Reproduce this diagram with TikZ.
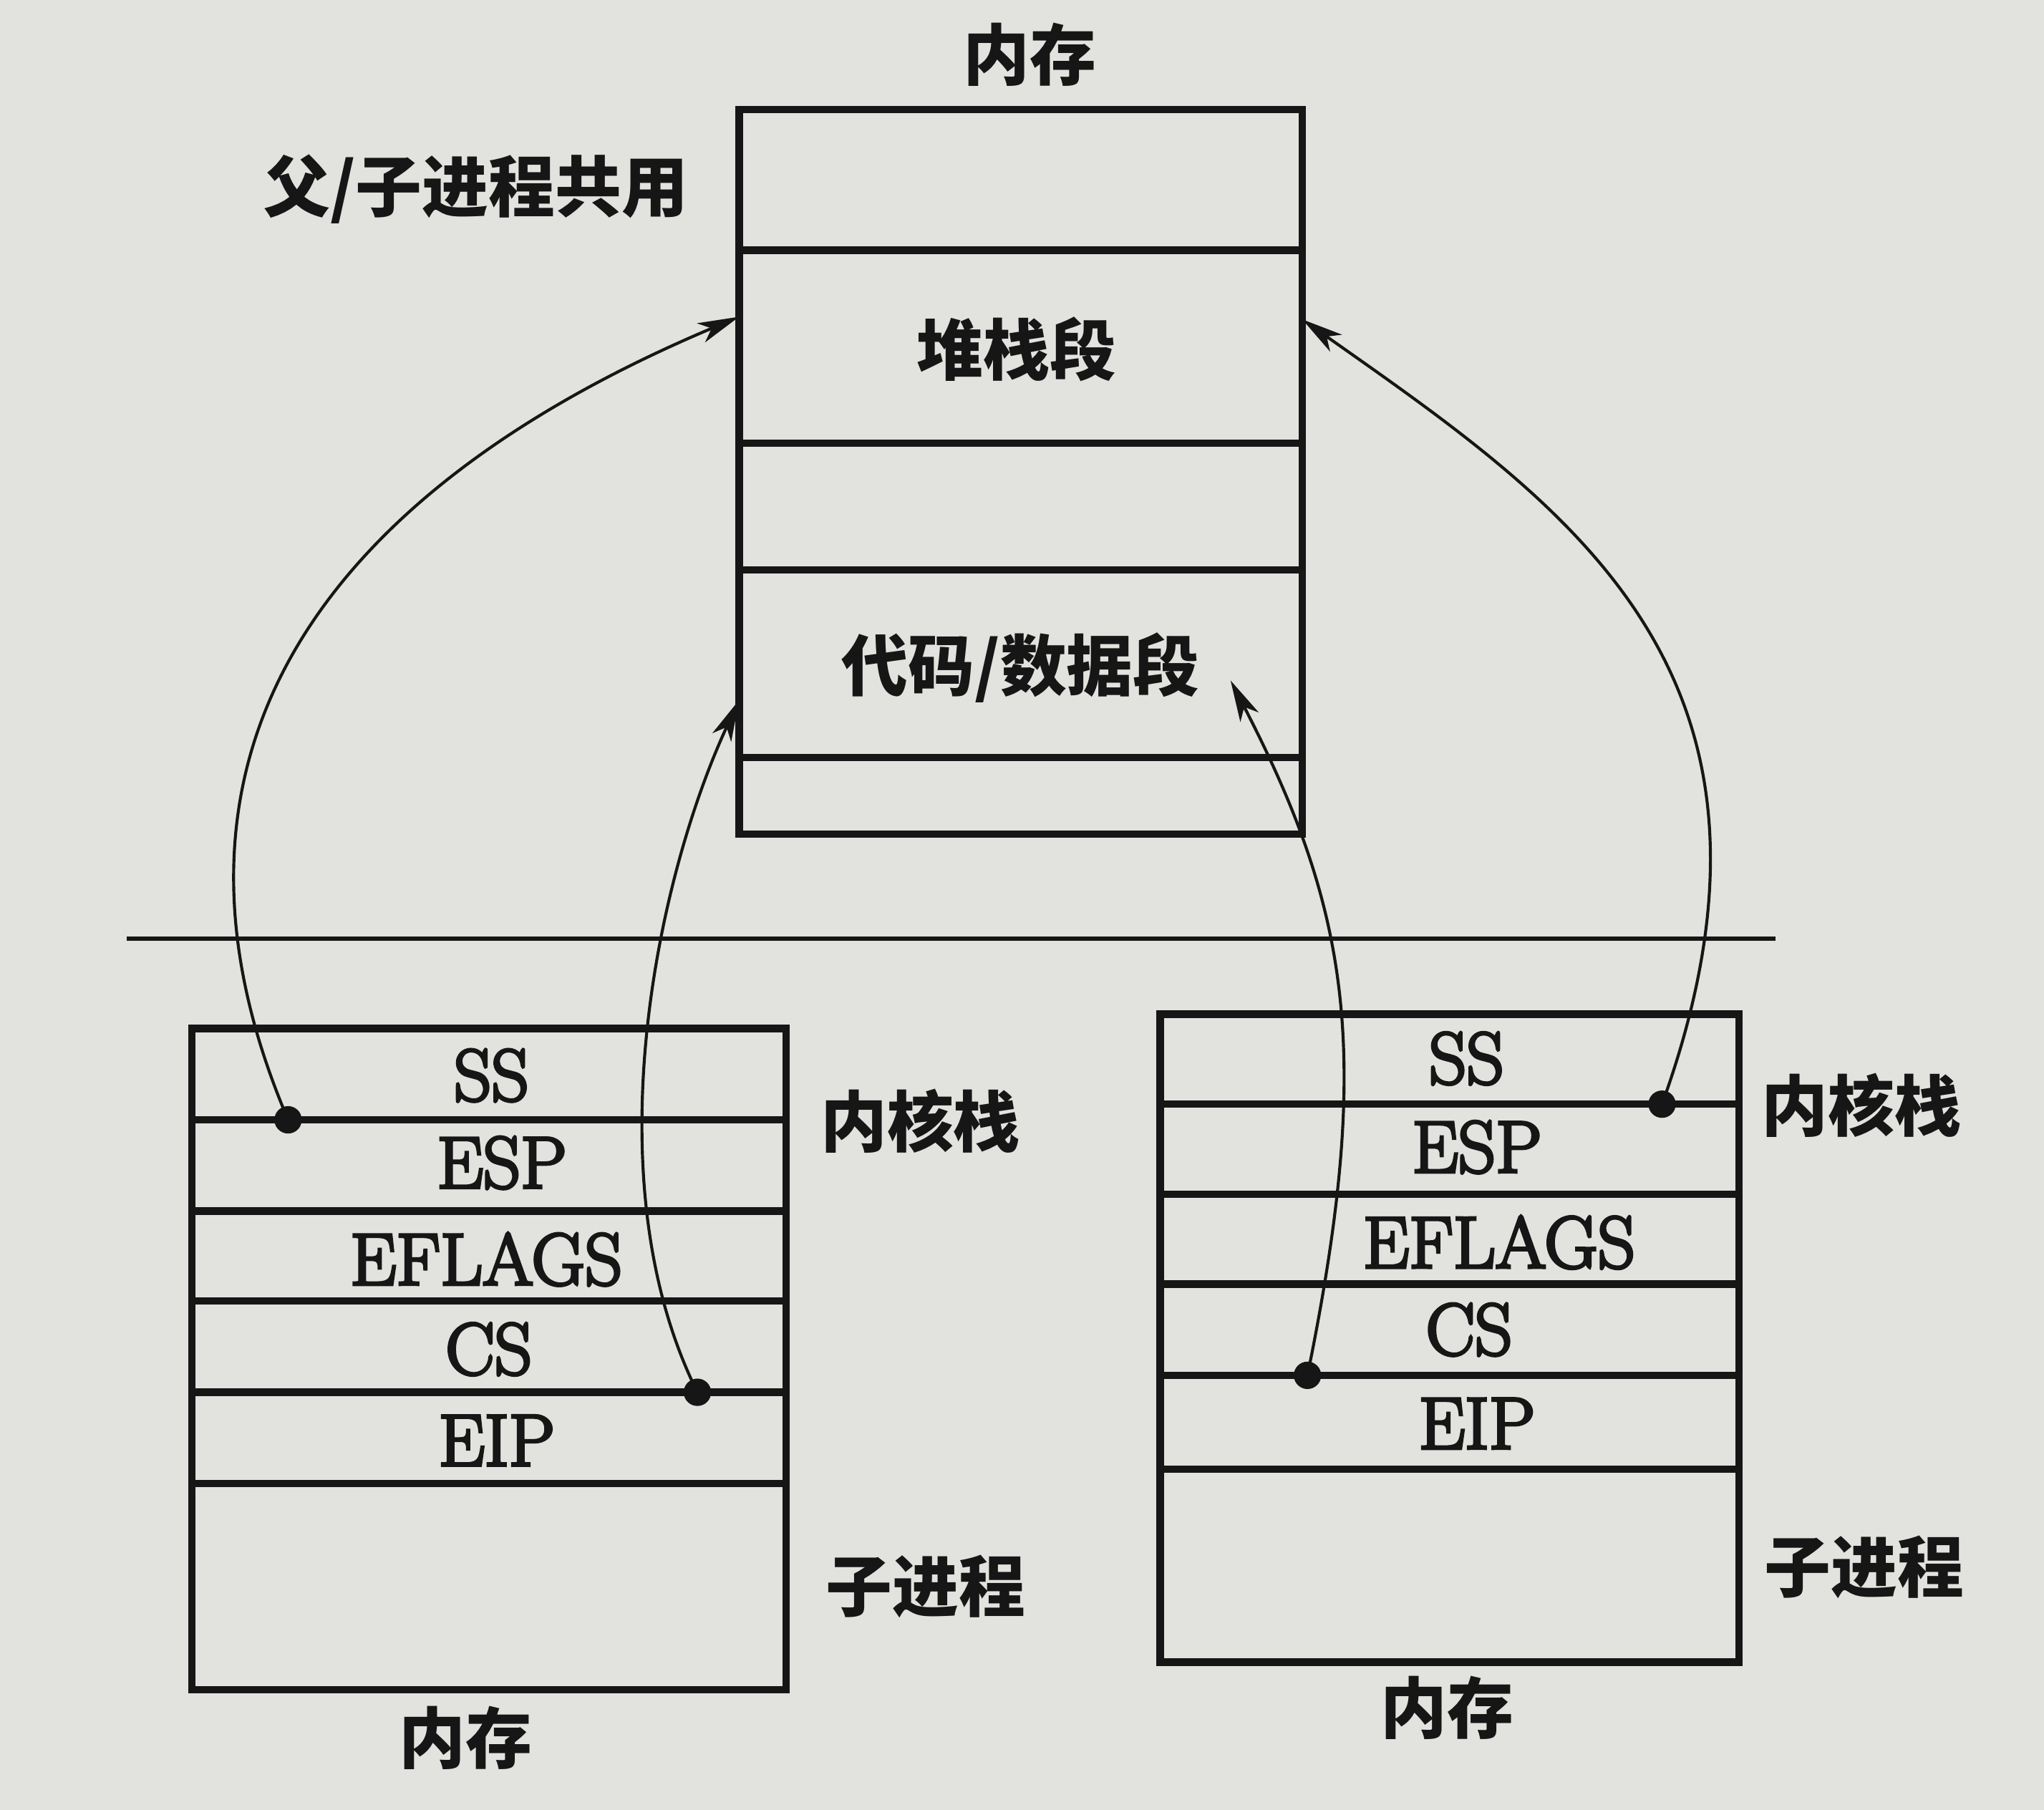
\documentclass[tikz,border=0pt]{standalone}
\usepackage{fontspec}
\newfontfamily\cjk{Noto Sans CJK SC}
\newfontfamily\regfont{Latin Modern Roman}[FakeBold=4]
\usetikzlibrary{arrows.meta}
\definecolor{paper}{RGB}{226,226,222}
\definecolor{ink}{RGB}{22,22,22}
\begin{document}
\begin{tikzpicture}[x=0.01cm,y=-0.01cm,
  box/.style={line width=1.6pt, draw=ink},
  link/.style={line width=0.65pt, draw=ink, -{Stealth[length=9pt,width=4.5pt,inset=2.5pt]}},
  reg/.style={font=\regfont\fontsize{16}{18}\selectfont, text=ink, inner sep=0pt},
  zh/.style={font=\cjk\bfseries\fontsize{14.5}{16}\selectfont, text=ink, inner sep=0pt},
  dot/.style={circle, fill=ink, minimum size=0.21cm, inner sep=0pt},
]
\fill[paper] (0,0) rectangle (1568,1388.4);
\useasboundingbox (0,0) rectangle (1568,1388.4);

% top memory box
\draw[box] (567,84) rectangle (999,640);
\foreach \y in {192,340,437,581} \draw[box] (567,\y) -- (999,\y);
\node[zh] (memtop) at (790,42) {内存};
\node[zh] (shared) at (365,145) {父/子进程共用};
\node[zh] (stackseg) at (780,268) {堆栈段};
\node[zh] (codeseg) at (783,512) {代码/数据段};

% separator
\draw[line width=1pt, draw=ink] (97,720) -- (1362,720);

% left child box
\draw[box] (147,789) rectangle (603,1296);
\foreach \y in {859,929,998,1068,1138} \draw[box] (147,\y) -- (603,\y);
\node[reg] (lss) at (377,825) {SS};
\node[reg] (lesp) at (385,892) {ESP};
\node[reg] (lefl) at (373,966) {EFLAGS};
\node[reg] (lcs) at (375,1035) {CS};
\node[reg] (leip) at (381,1105) {EIP};
\node[zh] (lkst) at (706,860) {内核栈};
\node[zh] (lchild) at (710,1217) {子进程};
\node[zh] (lmem) at (357,1333) {内存};

% right child box
\draw[box] (890,778) rectangle (1334,1275);
\foreach \y in {847,916,985,1055,1127} \draw[box] (890,\y) -- (1334,\y);
\node[reg] (rss) at (1125,812) {SS};
\node[reg] (resp) at (1133,880) {ESP};
\node[reg] (refl) at (1150,953) {EFLAGS};
\node[reg] (rcs) at (1127,1020) {CS};
\node[reg] (reip) at (1133,1092) {EIP};
\node[zh] (rkst) at (1428,848) {内核栈};
\node[zh] (rchild) at (1430,1202) {子进程};
\node[zh] (rmem) at (1110,1310) {内存};

% dots and targets
\node[dot] (d1) at (221,859) {};
\node[dot] (d2) at (535,1068) {};
\node[dot] (d3) at (1003,1055) {};
\node[dot] (d4) at (1275,847) {};
\coordinate (t1) at (567,243);
\coordinate (t2) at (567,537);
\coordinate (t3) at (944,522);
\coordinate (t4) at (999,245);

\draw[link] (d1.center) .. controls (70,505) and (363,329) .. (t1);
\draw[link] (d2.center) .. controls (454,905) and (504,673) .. (t2);
\draw[link] (d3.center) .. controls (1053,810) and (1036,700) .. (t3);
\draw[link] (d4.center) .. controls (1394,517) and (1205,390) .. (t4);
\end{tikzpicture}
\end{document}
